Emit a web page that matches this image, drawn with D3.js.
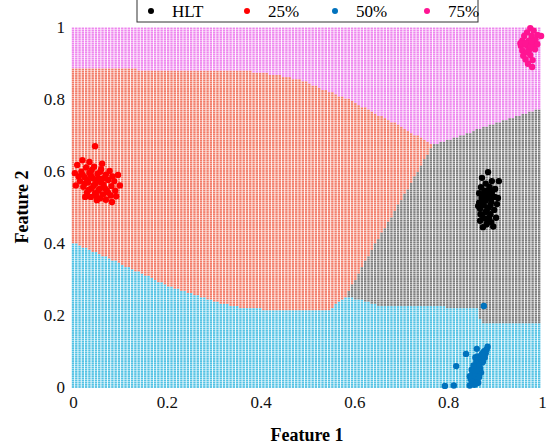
<!DOCTYPE html>
<meta charset="utf-8">
<style>
body { margin: 0; background: #fff; }
</style>
<body>
<script src="https://d3js.org/d3.v7.min.js"></script>
<script>

// class names and colours
var classes = ["HLT", "25%", "50%", "75%"];
var pointColors = {"HLT": "#000000", "25%": "#ff0000", "50%": "#0072bd", "75%": "#ff1493"};
var regionColors = {"HLT": "#7c7c7c", "25%": "#f27a66", "50%": "#52c2e4", "75%": "#ee86ee"};

var xTicks = [0, 0.2, 0.4, 0.6, 0.8, 1];
var yTicks = [0, 0.2, 0.4, 0.6, 0.8, 1];

// decision regions, in feature units
var region75 = [[0,1],[1,1],[1,0.775],[0.93,0.745],[0.767,0.672],[0.697,0.725],[0.59,0.797],
                [0.484,0.853],[0.4,0.875],[0.27,0.881],[0,0.883]];
var region25 = [[0,0.883],[0.27,0.881],[0.4,0.875],[0.484,0.853],[0.59,0.797],[0.697,0.725],
                [0.767,0.672],[0.7,0.52],[0.637,0.381],[0.582,0.253],[0.547,0.214],[0.46,0.212],
                [0.37,0.218],[0.3,0.238],[0.2,0.283],[0.1,0.343],[0,0.4]];
var regionHLT = [[0.767,0.672],[0.93,0.745],[1,0.775],[1,0.178],[0.87,0.178],[0.862,0.219],
                 [0.65,0.228],[0.582,0.253],[0.637,0.381],[0.7,0.52]];

// grid of the classifier mesh
var gridX = d3.range(0, 1.0001, 0.007);
var gridY = d3.range(0, 1.0001, 0.006);

// sample clusters
var ptsHLT = [[0.885,0.597],[0.872,0.581],[0.908,0.572],[0.893,0.572],[0.880,0.565],[0.870,0.555],
  [0.888,0.556],[0.900,0.550],[0.877,0.545],[0.866,0.538],[0.893,0.540],[0.884,0.532],[0.871,0.525],
  [0.899,0.528],[0.880,0.518],[0.866,0.512],[0.892,0.514],[0.904,0.508],[0.876,0.505],[0.886,0.498],
  [0.868,0.495],[0.898,0.492],[0.880,0.486],[0.872,0.478],[0.890,0.480],[0.902,0.470],[0.878,0.468],
  [0.868,0.462],[0.892,0.458],[0.882,0.452],[0.874,0.444],[0.896,0.446],[0.864,0.503],[0.906,0.525],
  [0.883,0.545],[0.876,0.528],[0.887,0.470],[0.869,0.480],[0.885,0.525],[0.878,0.535],[0.890,0.505],
  [0.882,0.490],[0.884,0.462],[0.894,0.530],[0.874,0.515],[0.888,0.548]];
var pts25 = [[0.047,0.669],[0.004,0.594],[0.009,0.617],[0.096,0.589],[0.026,0.528],[0.083,0.514],
  [0.051,0.519],[0.020,0.630],[0.035,0.625],[0.028,0.610],[0.045,0.612],[0.060,0.605],[0.018,0.598],
  [0.035,0.595],[0.052,0.592],[0.070,0.590],[0.025,0.583],[0.042,0.580],[0.058,0.578],[0.075,0.575],
  [0.088,0.572],[0.015,0.572],[0.032,0.568],[0.048,0.565],[0.065,0.562],[0.082,0.558],[0.022,0.556],
  [0.040,0.552],[0.056,0.550],[0.072,0.546],[0.090,0.545],[0.030,0.541],[0.047,0.538],[0.064,0.535],
  [0.080,0.532],[0.038,0.528],[0.058,0.524],[0.070,0.520],[0.012,0.585],[0.062,0.620],[0.078,0.600],
  [0.100,0.560],[0.006,0.560],[0.092,0.530],[0.038,0.588],[0.050,0.575],[0.044,0.560],[0.060,0.568],
  [0.030,0.575],[0.054,0.545],[0.068,0.552],[0.040,0.603],[0.025,0.565],[0.075,0.540],[0.058,0.598],
  [0.066,0.580],[0.034,0.548],[0.050,0.530],[0.020,0.590],[0.084,0.585]];
var pts50 = [[0.793,0.003],[0.812,0.004],[0.817,0.058],[0.838,0.092],[0.861,0.106],[0.876,0.225],
  [0.846,0.004],[0.850,0.012],[0.856,0.006],[0.848,0.022],[0.854,0.028],[0.860,0.020],[0.852,0.038],
  [0.858,0.045],[0.864,0.036],[0.856,0.055],[0.862,0.060],[0.868,0.052],[0.860,0.070],[0.866,0.075],
  [0.872,0.068],[0.868,0.085],[0.874,0.090],[0.878,0.082],[0.876,0.098],[0.882,0.104],[0.884,0.112],
  [0.850,0.048],[0.870,0.040],[0.864,0.012],[0.880,0.094],[0.846,0.030],[0.858,0.082],[0.852,0.015],
  [0.858,0.030],[0.862,0.048],[0.866,0.062],[0.870,0.078],[0.874,0.070],[0.866,0.028],[0.854,0.060],
  [0.862,0.085],[0.878,0.100],[0.872,0.092],[0.860,0.010]];
var pts75 = [[0.975,0.997],[0.998,0.975],[0.979,0.889],[0.968,0.985],[0.982,0.990],[0.962,0.975],
  [0.978,0.975],[0.990,0.978],[0.958,0.962],[0.972,0.962],[0.986,0.965],[0.955,0.948],[0.968,0.948],
  [0.982,0.950],[0.958,0.935],[0.972,0.935],[0.985,0.938],[0.960,0.920],[0.975,0.922],[0.965,0.910],
  [0.980,0.908],[0.970,0.898],[0.954,0.955],[0.990,0.952],[0.965,0.955],[0.976,0.945],[0.968,0.930],
  [0.978,0.960]];

var x = d3.scaleLinear().domain([0, 1]).range([73, 542]);
var y = d3.scaleLinear().domain([0, 1]).range([387, 27]);

var svg = d3.select("body").append("svg")
    .attr("width", 556)
    .attr("height", 448);

// classify mesh points
var mesh = [];
gridX.forEach(function(gx) {
  gridY.forEach(function(gy) {
    var c = "50%";
    if (d3.polygonContains(region75, [gx, gy])) c = "75%";
    else if (d3.polygonContains(region25, [gx, gy])) c = "25%";
    else if (d3.polygonContains(regionHLT, [gx, gy])) c = "HLT";
    mesh.push({x: gx, y: gy, c: c});
  });
});

svg.append("g").selectAll("rect")
    .data(mesh)
  .enter().append("rect")
    .attr("x", function(d) { return x(d.x) - 1.2; })
    .attr("y", function(d) { return y(d.y) - 0.9; })
    .attr("width", 2.4)
    .attr("height", 1.8)
    .attr("fill", function(d) { return regionColors[d.c]; });

// clusters
var clusters = [["HLT", ptsHLT], ["25%", pts25], ["50%", pts50], ["75%", pts75]];
clusters.forEach(function(cl) {
  svg.append("g").selectAll("circle")
      .data(cl[1])
    .enter().append("circle")
      .attr("cx", function(d) { return x(d[0]); })
      .attr("cy", function(d) { return y(d[1]); })
      .attr("r", 3.2)
      .attr("fill", pointColors[cl[0]]);
});

// axes
var xAxis = svg.append("g")
    .attr("transform", "translate(0,387)")
    .call(d3.axisBottom(x).tickValues(xTicks).tickSize(0).tickPadding(9)
      .tickFormat(function(d) { return d3.format("~g")(d); }));
xAxis.select(".domain").remove();

var yAxis = svg.append("g")
    .attr("transform", "translate(73,0)")
    .call(d3.axisLeft(y).tickValues(yTicks).tickSize(0).tickPadding(8)
      .tickFormat(function(d) { return d3.format("~g")(d); }));
yAxis.select(".domain").remove();

svg.selectAll(".tick text")
    .style("font-family", "'Liberation Serif', serif")
    .style("font-size", "17px")
    .style("fill", "#111");

svg.append("text")
    .attr("x", 307)
    .attr("y", 441)
    .attr("text-anchor", "middle")
    .style("font-family", "'Liberation Serif', serif")
    .style("font-size", "18px")
    .style("font-weight", "bold")
    .text("Feature 1");

svg.append("text")
    .attr("transform", "translate(28,207) rotate(-90)")
    .attr("text-anchor", "middle")
    .style("font-family", "'Liberation Serif', serif")
    .style("font-size", "18px")
    .style("font-weight", "bold")
    .text("Feature 2");

// legend
var legend = svg.append("g");
legend.append("rect")
    .attr("x", 137).attr("y", -2)
    .attr("width", 341).attr("height", 24)
    .attr("fill", "#fff").attr("stroke", "#333").attr("stroke-width", 1);

var legendPos = [151, 247, 335, 427];
classes.forEach(function(c, i) {
  legend.append("circle")
      .attr("cx", legendPos[i]).attr("cy", 11)
      .attr("r", 3).attr("fill", pointColors[c]);
  legend.append("text")
      .attr("x", legendPos[i] + 21).attr("y", 17)
      .style("font-family", "'Liberation Serif', serif")
      .style("font-size", "17px")
      .text(c);
});

</script>
</body>
